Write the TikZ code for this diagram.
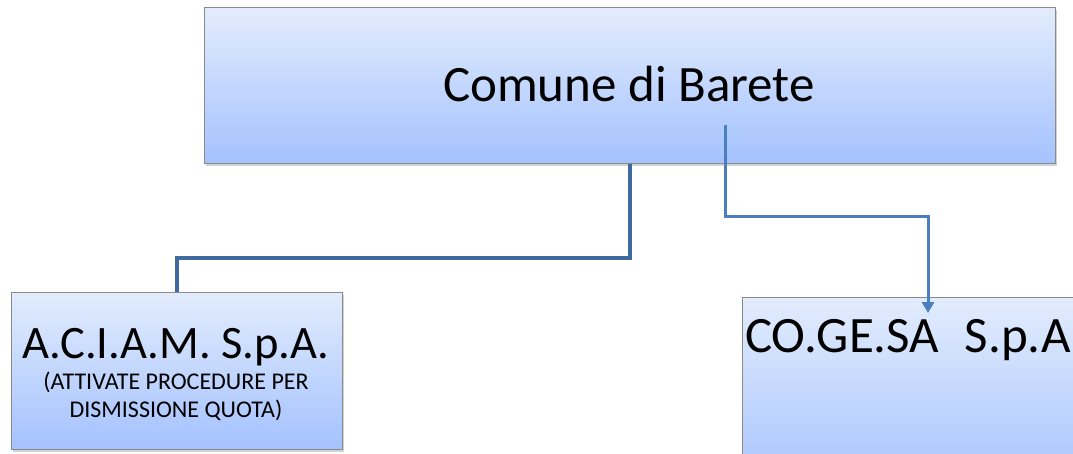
\documentclass[tikz,border=0pt]{standalone}
\usepackage{fontspec}
\setmainfont{Carlito}
\usetikzlibrary{shadows,arrows.meta}
\definecolor{boxtop}{HTML}{E2ECFD}
\definecolor{boxbot}{HTML}{A4C2FE}
\definecolor{boxline}{HTML}{8A8A8A}
\definecolor{linkA}{HTML}{3E6A9E}
\definecolor{linkB}{HTML}{4A7EBF}
\tikzset{
  orgbox/.style={draw=boxline, line width=1pt, top color=boxtop, bottom color=boxbot,
    inner sep=0pt, outer sep=0pt,
    drop shadow={shadow xshift=1.5pt, shadow yshift=-2.5pt, opacity=0.35}},
  label/.style={anchor=base, inner sep=0pt, text=black},
  linkone/.style={draw=linkA, line width=4pt},
  linktwo/.style={draw=linkB, line width=3pt, -{Triangle[length=11pt,width=12pt]}},
}
\begin{document}
\begin{tikzpicture}[x=1pt,y=-1pt]
\useasboundingbox (0,0) rectangle (1073,454);
\clip (0,0) rectangle (1073,454);
\fill[white] (0,0) rectangle (1073,454);
\node[orgbox, minimum width=851pt, minimum height=156pt] (comune) at (629.5,86) {};
\node[orgbox, minimum width=331pt, minimum height=157pt] (aciam) at (176.5,370.5) {};
\node[orgbox, minimum width=372pt, minimum height=200pt] (cogesa) at (928,397) {};
\node[label, font=\fontsize{51}{56}\selectfont] (t1) at (629,102) {Comune di Barete};
\node[label, font=\fontsize{46.5}{50}\selectfont] (t2) at (176,358) {A.C.I.A.M. S.p.A.};
\node[label, font=\fontsize{24}{28}\selectfont] (t3) at (176,389) {(ATTIVATE PROCEDURE PER};
\node[label, font=\fontsize{24}{28}\selectfont] (t4) at (176,417) {DISMISSIONE QUOTA)};
\node[label, anchor=base west, font=\fontsize{51}{56}\selectfont] (t5) at (745,352) {CO.GE.SA\hspace{0.5em}S.p.A};
\coordinate (s2) at (725,125);
\coordinate (tip) at (928,313);
\draw[linkone] (comune.south) -- ++(0,94) -| (aciam.north);
\draw[linktwo] (s2) -- (725,217) -| (tip);
\end{tikzpicture}
\end{document}
